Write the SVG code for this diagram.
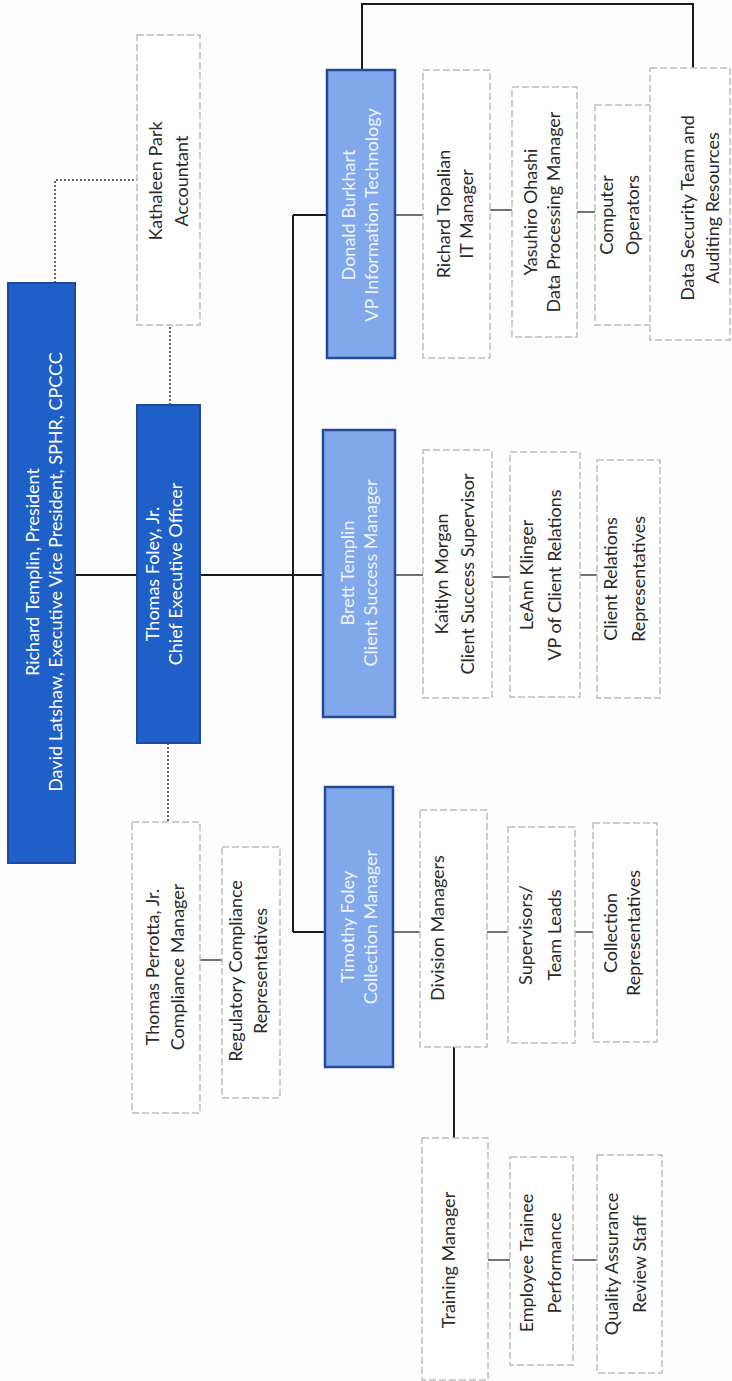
<svg xmlns="http://www.w3.org/2000/svg" width="732" height="1381" viewBox="0 0 732 1381">
<style>
.bg{fill:#fdfdfd}
.dark rect{fill:#1f5fc8;stroke:#1b4a9e;stroke-width:2}
.light rect{fill:#80a8ea;stroke:#24489a;stroke-width:2.5}
.plain rect{fill:#ffffff;stroke:#bdbdbd;stroke-width:1.5;stroke-dasharray:7 3}
text{font-family:Lato,"Liberation Sans",sans-serif;font-size:18px;text-anchor:middle}
.dark text{fill:#ffffff}
.light text{fill:#eef3ff}
.plain text{fill:#2a2a2a}
.c{fill:none;stroke:#1a1a1a;stroke-width:2}
.t{fill:none;stroke:#444444;stroke-width:1.5}
.d{fill:none;stroke:#333333;stroke-width:1.5;stroke-dasharray:2 2}
</style>
<rect class="bg" x="0" y="0" width="732" height="1381"/>

<g id="connectors">
  <path class="c" d="M75,575 H137"/>
  <path class="c" d="M200,575 H293"/>
  <path class="c" d="M293,215 V932"/>
  <path class="c" d="M293,215 H327"/>
  <path class="c" d="M293,575 H323"/>
  <path class="c" d="M293,932 H325"/>
  <path class="c" d="M362,70 V4 H693 V68"/>
  <path class="c" d="M454,1047 V1138"/>
  <path class="t" d="M395,215 H423"/>
  <path class="t" d="M490,210 H512"/>
  <path class="t" d="M577,212 H595"/>
  <path class="t" d="M395,575 H423"/>
  <path class="t" d="M492,577 H510"/>
  <path class="t" d="M580,575 H597"/>
  <path class="t" d="M393,932 H420"/>
  <path class="t" d="M487,932 H508"/>
  <path class="t" d="M575,932 H593"/>
  <path class="t" d="M488,1260 H510"/>
  <path class="t" d="M573,1260 H597"/>
  <path class="t" d="M200,960 H222"/>
  <path class="d" d="M55,283 V180 H137"/>
  <path class="d" d="M170,405 V325"/>
  <path class="d" d="M168,743 V822"/>
</g>

<g id="president" class="dark">
  <rect x="8" y="283" width="67" height="580"/>
  <text transform="translate(0,572) rotate(-90)"><tspan x="0" y="39">Richard Templin, President</tspan><tspan x="0" y="62">David Latshaw, Executive Vice President, SPHR, CPCCC</tspan></text>
</g>
<g id="ceo" class="dark">
  <rect x="137" y="405" width="63" height="338"/>
  <text transform="translate(0,574) rotate(-90)"><tspan x="0" y="159">Thomas Foley, Jr.</tspan><tspan x="0" y="182">Chief Executive Officer</tspan></text>
</g>
<g id="accountant" class="plain">
  <rect x="137" y="35" width="63" height="290"/>
  <text transform="translate(0,181) rotate(-90)"><tspan x="0" y="162">Kathaleen Park</tspan><tspan x="0" y="188">Accountant</tspan></text>
</g>
<g id="compliance-manager" class="plain">
  <rect x="132" y="822" width="68" height="291"/>
  <text transform="translate(0,967) rotate(-90)"><tspan x="0" y="159">Thomas Perrotta, Jr.</tspan><tspan x="0" y="184">Compliance Manager</tspan></text>
</g>
<g id="regulatory-compliance" class="plain">
  <rect x="222" y="847" width="58" height="251"/>
  <text transform="translate(0,971) rotate(-90)"><tspan x="0" y="242">Regulatory Compliance</tspan><tspan x="0" y="267">Representatives</tspan></text>
</g>

<g id="vp-it" class="light">
  <rect x="327" y="70" width="68" height="288"/>
  <text transform="translate(0,215) rotate(-90)"><tspan x="0" y="355">Donald Burkhart</tspan><tspan x="0" y="378">VP Information Technology</tspan></text>
</g>
<g id="client-success-manager" class="light">
  <rect x="323" y="430" width="72" height="287"/>
  <text transform="translate(0,573) rotate(-90)"><tspan x="0" y="354">Brett Templin</tspan><tspan x="0" y="377">Client Success Manager</tspan></text>
</g>
<g id="collection-manager" class="light">
  <rect x="325" y="787" width="68" height="280"/>
  <text transform="translate(0,927) rotate(-90)"><tspan x="0" y="354">Timothy Foley</tspan><tspan x="0" y="377">Collection Manager</tspan></text>
</g>

<g id="it-manager" class="plain">
  <rect x="423" y="70" width="67" height="288"/>
  <text transform="translate(0,214) rotate(-90)"><tspan x="0" y="450">Richard Topalian</tspan><tspan x="0" y="473">IT Manager</tspan></text>
</g>
<g id="data-processing-manager" class="plain">
  <rect x="512" y="87" width="65" height="250"/>
  <text transform="translate(0,212) rotate(-90)"><tspan x="0" y="537">Yasuhiro Ohashi</tspan><tspan x="0" y="560">Data Processing Manager</tspan></text>
</g>
<g id="computer-operators" class="plain">
  <rect x="595" y="105" width="58" height="220"/>
  <text transform="translate(0,215) rotate(-90)"><tspan x="0" y="613">Computer</tspan><tspan x="0" y="639">Operators</tspan></text>
</g>
<g id="data-security" class="plain">
  <rect x="650" y="68" width="80" height="272"/>
  <text transform="translate(0,208) rotate(-90)"><tspan x="0" y="694">Data Security Team and</tspan><tspan x="0" y="719">Auditing Resources</tspan></text>
</g>

<g id="client-success-supervisor" class="plain">
  <rect x="423" y="450" width="69" height="248"/>
  <text transform="translate(0,574) rotate(-90)"><tspan x="0" y="448">Kaitlyn Morgan</tspan><tspan x="0" y="474">Client Success Supervisor</tspan></text>
</g>
<g id="vp-client-relations" class="plain">
  <rect x="510" y="452" width="70" height="245"/>
  <text transform="translate(0,575) rotate(-90)"><tspan x="0" y="533">LeAnn Klinger</tspan><tspan x="0" y="561">VP of Client Relations</tspan></text>
</g>
<g id="client-relations-reps" class="plain">
  <rect x="597" y="460" width="63" height="238"/>
  <text transform="translate(0,579) rotate(-90)"><tspan x="0" y="617">Client Relations</tspan><tspan x="0" y="645">Representatives</tspan></text>
</g>

<g id="division-managers" class="plain">
  <rect x="420" y="810" width="67" height="237"/>
  <text transform="translate(0,928) rotate(-90)"><tspan x="0" y="444">Division Managers</tspan></text>
</g>
<g id="supervisors" class="plain">
  <rect x="508" y="827" width="67" height="216"/>
  <text transform="translate(0,935) rotate(-90)"><tspan x="0" y="532">Supervisors/</tspan><tspan x="0" y="561">Team Leads</tspan></text>
</g>
<g id="collection-reps" class="plain">
  <rect x="593" y="823" width="64" height="219"/>
  <text transform="translate(0,933) rotate(-90)"><tspan x="0" y="617">Collection</tspan><tspan x="0" y="640">Representatives</tspan></text>
</g>

<g id="training-manager" class="plain">
  <rect x="422" y="1138" width="66" height="242"/>
  <text transform="translate(0,1260) rotate(-90)"><tspan x="0" y="455">Training Manager</tspan></text>
</g>
<g id="employee-trainee" class="plain">
  <rect x="510" y="1157" width="63" height="208"/>
  <text transform="translate(0,1263) rotate(-90)"><tspan x="0" y="533">Employee Trainee</tspan><tspan x="0" y="561">Performance</tspan></text>
</g>
<g id="quality-assurance" class="plain">
  <rect x="597" y="1155" width="65" height="218"/>
  <text transform="translate(0,1264) rotate(-90)"><tspan x="0" y="618">Quality Assurance</tspan><tspan x="0" y="646">Review Staff</tspan></text>
</g>
</svg>
